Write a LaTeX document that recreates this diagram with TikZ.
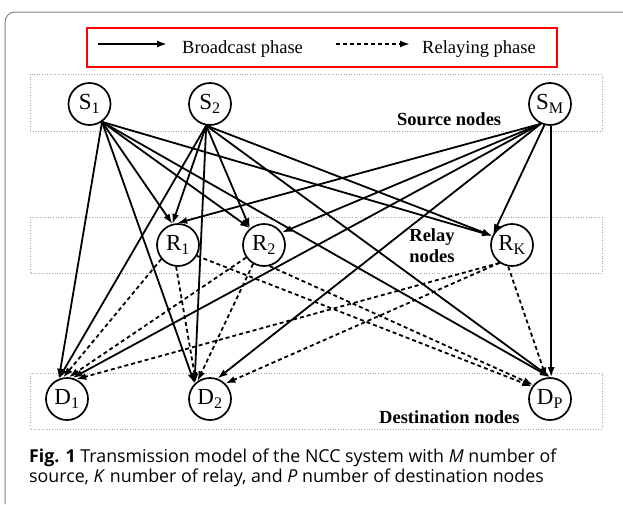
\documentclass[tikz,border=0pt]{standalone}
\usepackage{fontspec}
\setmainfont{Liberation Serif}
\newfontfamily\capfont{Open Sans}
\usetikzlibrary{arrows.meta}

\begin{document}
\begin{tikzpicture}[x=1pt, y=-1pt,
    netnode/.style={circle, draw, line width=1.7pt, minimum size=42pt, inner sep=0pt, font=\fontsize{23}{23}\selectfont},
    layerbox/.style={draw=gray!70, dotted, line width=0.6pt},
    bcast/.style={line width=1.8pt, -{Latex[length=10pt,width=7pt]}},
    relaying/.style={bcast, dash pattern=on 4pt off 3pt},
    boxlabel/.style={font=\fontsize{18.5}{21}\selectfont\bfseries, inner sep=0pt},
    legtext/.style={font=\fontsize{18.5}{21}\selectfont, inner sep=0pt, anchor=base west},
    captext/.style={font=\capfont\fontsize{17.8}{20}\selectfont, inner sep=0pt, anchor=base west}]

\useasboundingbox (0,0) rectangle (623,504);
\draw[gray, line width=1pt, rounded corners=10pt] (623,12) -| (5,504);

% legend
\draw[red, line width=1.8pt] (87,28) rectangle (557,67);
\coordinate (l1a) at (98,44);
\coordinate (l1b) at (167,44);
\coordinate (l2a) at (336,44);
\coordinate (l2b) at (410,44);
\draw[bcast] (l1a) -- (l1b);
\draw[relaying] (l2a) -- (l2b);
\node[legtext] (bctext) at (182,53) {Broadcast phase};
\node[legtext] (rltext) at (422,53) {Relaying phase};

% layers
\draw[layerbox] (30,74) rectangle (602,131);
\draw[layerbox] (30,217) rectangle (602,273);
\draw[layerbox] (30,373) rectangle (602,429);
\node[boxlabel, anchor=base west] (srclabel) at (397,125) {Source nodes};
\node[boxlabel, align=center] (rlylabel) at (432,246) {Relay\\nodes};
\node[boxlabel, anchor=base west] (dstlabel) at (379,423) {Destination nodes};

% nodes
\node[netnode] (S1) at (89.5,104) {S\textsubscript{1}};
\node[netnode] (S2) at (210,104) {S\textsubscript{2}};
\node[netnode] (SM) at (550,104) {S\textsubscript{M}};
\node[netnode] (R1) at (178,245) {R\textsubscript{1}};
\node[netnode] (R2) at (264,245) {R\textsubscript{2}};
\node[netnode] (RK) at (512,245) {R\textsubscript{K}};
\node[netnode] (D1) at (67,399) {D\textsubscript{1}};
\node[netnode] (D2) at (210,399) {D\textsubscript{2}};
\node[netnode] (DP) at (550,399) {D\textsubscript{P}};

% broadcast phase
\foreach \s/\a in {S1/-55, S2/-100}
  \foreach \t/\b in {R1/105, R2/130, RK/155, D1/112, D2/135, DP/90}
    \draw[bcast] (\s.\a) -- (\t.\b);
\draw[bcast] (SM.-115) -- (R1.92);
\draw[bcast] (SM.-115) -- (R2.35);
\draw[bcast] (SM.-105) -- (RK.150);
\draw[bcast] (SM.-115) -- (D1.75);
\draw[bcast] (SM.-115) -- (D2.70);
\draw[bcast] (SM.-87) -- (DP.87);

% relaying phase
\draw[relaying] (R1.-140) -- (D1.100);
\draw[relaying] (R1.-95) -- (D2.130);
\draw[relaying] (R1.-30) -- (DP.145);
\draw[relaying] (R2.-145) -- (D1.85);
\draw[relaying] (R2.-120) -- (D2.125);
\draw[relaying] (R2.-75) -- (DP.140);
\draw[relaying] (RK.-125) -- (D1.65);
\draw[relaying] (RK.-125) -- (D2.45);
\draw[relaying] (RK.-100) -- (DP.100);

% caption
\node[captext] (cap1) at (29,462) {{\bfseries Fig. 1} Transmission model of the NCC system with \textit{M} number of};
\node[captext] (cap2) at (29,482) {source, \textit{K} number of relay, and \textit{P} number of destination nodes};
\end{tikzpicture}
\end{document}
